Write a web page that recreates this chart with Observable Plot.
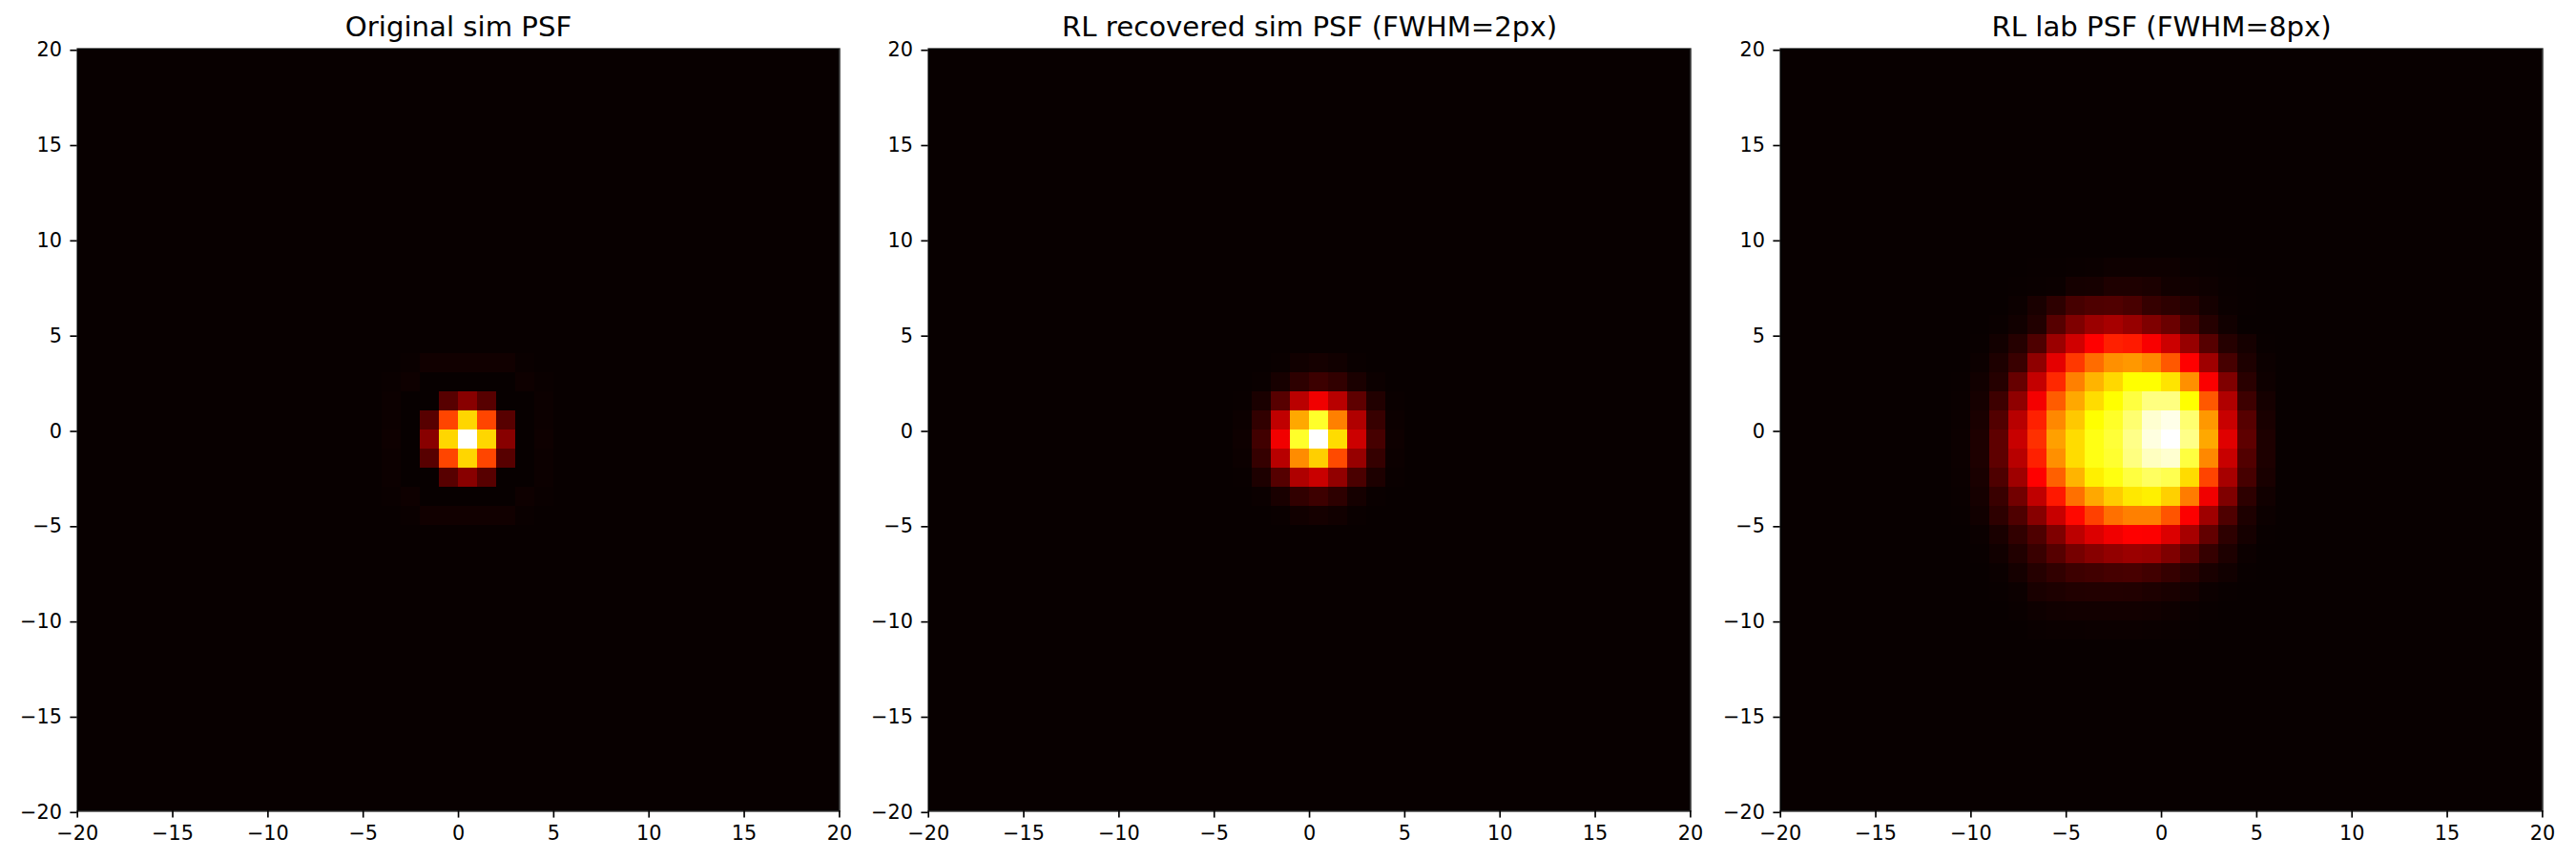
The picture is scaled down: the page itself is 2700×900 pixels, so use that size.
<!DOCTYPE html>
<html>
<head>
<meta charset="utf-8">
<script src="https://cdn.jsdelivr.net/npm/d3@7"></script>
<script src="https://cdn.jsdelivr.net/npm/@observablehq/plot@0.6"></script>
<style>
html,body{margin:0;padding:0;background:#fff;}
#chart{position:relative;width:2700px;height:900px;overflow:hidden;}
#chart>svg{position:absolute;top:0;}
</style>
</head>
<body>
<div id="chart"></div>
<script>
const titles = ["Original sim PSF", "RL recovered sim PSF (FWHM=2px)", "RL lab PSF (FWHM=8px)"];
const ticks = [-20, -15, -10, -5, 0, 5, 10, 15, 20];
const background = 2; // per-mille of peak, everywhere outside the tabulated windows

// Per-mille intensity. Rows run top to bottom; first row/col give the cell's lower-left pixel index.
const simCol0 = -5, simRow0 = 5;
const simValues = [
  [2,2,2,2,2,2,2,2,2,2,2],
  [2,2,4,14,14,14,14,14,4,2,2],
  [2,4,10,0,0,0,0,0,10,4,2],
  [2,8,0,0,118,190,118,0,0,8,2],
  [2,8,0,118,468,685,468,118,0,8,2],
  [2,10,0,190,685,1000,685,190,0,10,2],
  [2,8,0,118,468,685,468,118,0,8,2],
  [2,8,0,0,118,190,118,0,0,8,2],
  [2,4,10,0,0,0,0,0,10,4,2],
  [2,2,4,14,14,14,14,14,4,2,2],
  [2,2,2,2,2,2,2,2,2,2,2]
];

const recCol0 = -4, recRow0 = 4;
const recValues = [
  [2,2,4,14,20,14,4,2,2],
  [2,4,24,56,78,62,28,8,2],
  [3,28,118,264,344,260,128,38,4],
  [8,62,272,616,788,556,248,71,8],
  [10,85,344,788,1000,693,290,92,10],
  [8,68,260,574,675,475,212,68,8],
  [3,32,115,247,285,205,98,32,4],
  [2,6,26,62,80,56,20,4,2],
  [2,2,4,14,20,14,4,2,2]
];

const labCol0 = -11, labRow0 = 9;
const labValues = [
  [2,2,2,2,3,3,4,6,10,10,10,10,6,4,3,2,2],
  [2,2,2,3,4,6,20,22,34,34,30,16,14,10,4,3,2],
  [2,2,2,8,26,56,92,104,108,96,68,56,44,20,6,3,2],
  [2,2,4,14,38,116,176,218,236,212,176,146,92,44,14,2,2],
  [2,3,16,44,104,218,296,365,413,404,356,290,212,116,44,20,3],
  [2,8,32,74,200,326,449,526,580,592,568,497,365,224,92,32,8],
  [3,14,44,140,278,425,556,634,688,746,746,706,580,359,176,50,10],
  [4,20,80,200,350,503,616,694,746,810,873,873,746,497,248,80,20],
  [6,26,110,260,413,568,664,746,786,858,953,977,858,592,284,116,26],
  [8,32,128,284,437,604,694,766,802,881,969,1000,881,616,320,128,32],
  [8,32,128,260,413,580,694,766,794,873,937,953,810,568,284,110,32],
  [6,26,104,224,365,508,634,724,762,810,842,826,694,467,236,92,26],
  [4,20,74,158,272,401,532,616,670,712,724,676,550,344,176,56,14],
  [3,14,56,104,188,284,377,461,532,556,556,491,362,224,104,32,8],
  [2,6,26,62,104,176,266,314,344,365,362,314,236,134,56,20,3],
  [2,3,14,38,74,116,164,188,206,218,212,176,128,68,32,8,2],
  [2,2,6,20,44,62,80,86,92,96,86,68,50,26,14,3,2],
  [2,2,3,8,26,32,38,40,40,38,32,26,20,8,3,2,2],
  [2,2,2,4,10,14,16,16,16,16,14,10,6,3,2,2,2],
  [2,2,2,2,4,6,6,8,8,8,6,4,3,2,2,2,2]
];

const hotStops = [0, 365, 746, 1000];
const hotColors = ["#070000", "#ff0000", "#ffff00", "#ffffff"];
const panelLefts = [0, 892, 1785];
const panels = [[simValues, simCol0, simRow0], [recValues, recCol0, recRow0], [labValues, labCol0, labRow0]];

const hot = d3.scaleLinear().domain(hotStops.map(d => d / 1000)).range(hotColors).interpolate(d3.interpolateRgb);
const FONT = "DejaVu Sans";
const fmt = d => String(d).replace("-", "\u2212");

panels.forEach(([values, col0, row0], k) => {
  const cells = [{x1: -20, x2: 20, y1: -20, y2: 20, v: background}];
  values.forEach((row, r) => row.forEach((v, c) => {
    const x = col0 + c, top = row0 - r;
    cells.push({x1: x, x2: x + 1, y1: top - 1, y2: top, v});
  }));
  const svg = Plot.plot({
    width: 892, height: 900,
    marginLeft: 80.7, marginRight: 12.6, marginTop: 50.7, marginBottom: 50.7,
    style: {fontFamily: FONT, background: "transparent", overflow: "visible"},
    x: {domain: [-20, 20], label: null},
    y: {domain: [-20, 20], label: null},
    color: {type: "linear", domain: [0, 1000], interpolate: hot},
    marks: [
      Plot.rect(cells, {x1: "x1", x2: "x2", y1: "y1", y2: "y2", fill: "v", shapeRendering: "crispEdges"}),
      Plot.frame({stroke: "#000", strokeWidth: 1.67, strokeOpacity: 0.85}),
      Plot.axisX(ticks, {anchor: "bottom", label: null, tickSize: 7.3, tickPadding: 8.5, strokeWidth: 1.67, stroke: "#000", fontSize: 20.8, fill: "#000", tickFormat: fmt}),
      Plot.axisY(ticks, {anchor: "left", label: null, tickSize: 7.3, tickPadding: 9, strokeWidth: 1.67, stroke: "#000", fontSize: 20.8, fill: "#000", tickFormat: fmt, textStroke: "none", dy: 1.5}),
      Plot.text([titles[k]], {text: d => d, frameAnchor: "top", dy: -13, lineAnchor: "bottom", fontSize: 29.2, fill: "#000"})
    ]
  });
  svg.style.left = panelLefts[k] + "px";
  document.getElementById("chart").appendChild(svg);
});
</script>
</body>
</html>
